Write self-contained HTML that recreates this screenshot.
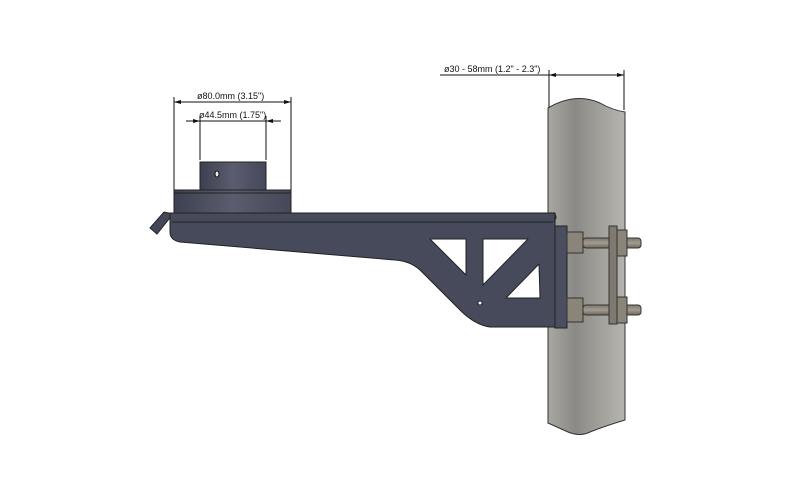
<!DOCTYPE html>
<html><head><meta charset="utf-8"><style>body{margin:0;background:#fff}svg{display:block}</style></head><body>
<svg width="800" height="500" viewBox="0 0 800 500" xmlns="http://www.w3.org/2000/svg" font-family="Liberation Sans, sans-serif">
<defs>
<linearGradient id="pole" x1="0" x2="1"><stop offset="0" stop-color="#a9a8a2"/><stop offset="0.35" stop-color="#8a8985"/><stop offset="0.6" stop-color="#9c9b96"/><stop offset="1" stop-color="#b5b4ae"/></linearGradient>
<linearGradient id="cyl" x1="0" x2="1"><stop offset="0" stop-color="#3d4050"/><stop offset="0.5" stop-color="#5a5d6e"/><stop offset="1" stop-color="#454858"/></linearGradient>
<linearGradient id="rod" x1="0" y1="0" x2="0" y2="1"><stop offset="0" stop-color="#7c766c"/><stop offset="0.5" stop-color="#a39c90"/><stop offset="1" stop-color="#6b655c"/></linearGradient>
</defs>
<!-- pole -->
<path d="M548 108 Q575 92 600 103 Q612 110 625 112 L625 420 Q605 426 590 432 Q580 437 568 432 L548 423 Z" fill="url(#pole)" stroke="#333" stroke-width="1"/>
<!-- dimension pole -->
<g stroke="#111" stroke-width="1" fill="none">
<line x1="440" y1="75" x2="624" y2="75"/>
<line x1="549" y1="70" x2="549" y2="108"/>
<line x1="624" y1="70" x2="624" y2="110"/>
</g>
<path d="M549 75 l7 -2 v4z M624 75 l-7 -2 v4z" fill="#111"/>
<text x="444" y="72" font-size="9" fill="#111">ø30 - 58mm (1.2" - 2.3")</text>
<!-- dims collar -->
<g stroke="#111" stroke-width="1" fill="none">
<line x1="174" y1="102" x2="291" y2="102"/>
<line x1="174" y1="97" x2="174" y2="190"/>
<line x1="291" y1="97" x2="291" y2="190"/>
<line x1="186" y1="121" x2="281" y2="121"/>
<line x1="200" y1="116" x2="200" y2="160"/>
<line x1="266" y1="116" x2="266" y2="160"/>
</g>
<path d="M174 102 l7 -2 v4z M291 102 l-7 -2 v4z M200 121 l-7 -2 v4z M266 121 l7 -2 v4z" fill="#111"/>
<text x="197" y="99" font-size="9" fill="#111">ø80.0mm (3.15")</text>
<text x="199" y="118" font-size="9" fill="#111">ø44.5mm (1.75")</text>
<!-- collar -->
<rect x="200" y="162" width="66" height="29" fill="url(#cyl)" stroke="#222"/>
<ellipse cx="217" cy="174" rx="2" ry="3" fill="#eee" stroke="#111"/>
<rect x="174" y="190" width="117" height="23" fill="url(#cyl)" stroke="#222"/>
<line x1="174" y1="193" x2="291" y2="193" stroke="#222"/>
<!-- tab -->
<path d="M150 228 L164 212 L173 214 L157 234 Z" fill="#454858" stroke="#222"/>
<!-- arm -->
<path d="M170 213 L555 213 L555 327 L490 327 Q475 325 460 310 L420 270 Q410 261 395 260 L180 242 Q170 240 170 232 Z" fill="#474a5b" stroke="#222"/>
<line x1="172" y1="222" x2="553" y2="222" stroke="#222"/>
<path d="M430 239 L466 239 L466 275 Z" fill="#fff" stroke="#222" stroke-linejoin="round"/>
<path d="M483 239 L528 239 L483 285 Z" fill="#fff" stroke="#222" stroke-linejoin="round"/>
<path d="M539 264 L540 298 L506 298 Z" fill="#fff" stroke="#222" stroke-linejoin="round"/>
<circle cx="480" cy="303" r="2" fill="#fff" stroke="#222"/>
<rect x="555" y="226" width="12" height="102" fill="#4b4e5f" stroke="#222"/>
<path d="M550 213 Q556 212 556 218 L554 222" fill="none" stroke="#222"/>
<!-- bolts -->
<rect x="583" y="238" width="58" height="10" rx="3" fill="url(#rod)" stroke="#333"/>
<rect x="583" y="305" width="58" height="10" rx="3" fill="url(#rod)" stroke="#333"/>
<rect x="567" y="232" width="16" height="21" fill="#8b8478" stroke="#333"/>
<rect x="567" y="298" width="16" height="24" fill="#8b8478" stroke="#333"/>
<rect x="609" y="226" width="8" height="98" fill="#7f796f" stroke="#333"/>
<rect x="617" y="230" width="10" height="26" fill="#8b8478" stroke="#333"/>
<rect x="617" y="297" width="10" height="26" fill="#8b8478" stroke="#333"/>
</svg>
</body></html>
